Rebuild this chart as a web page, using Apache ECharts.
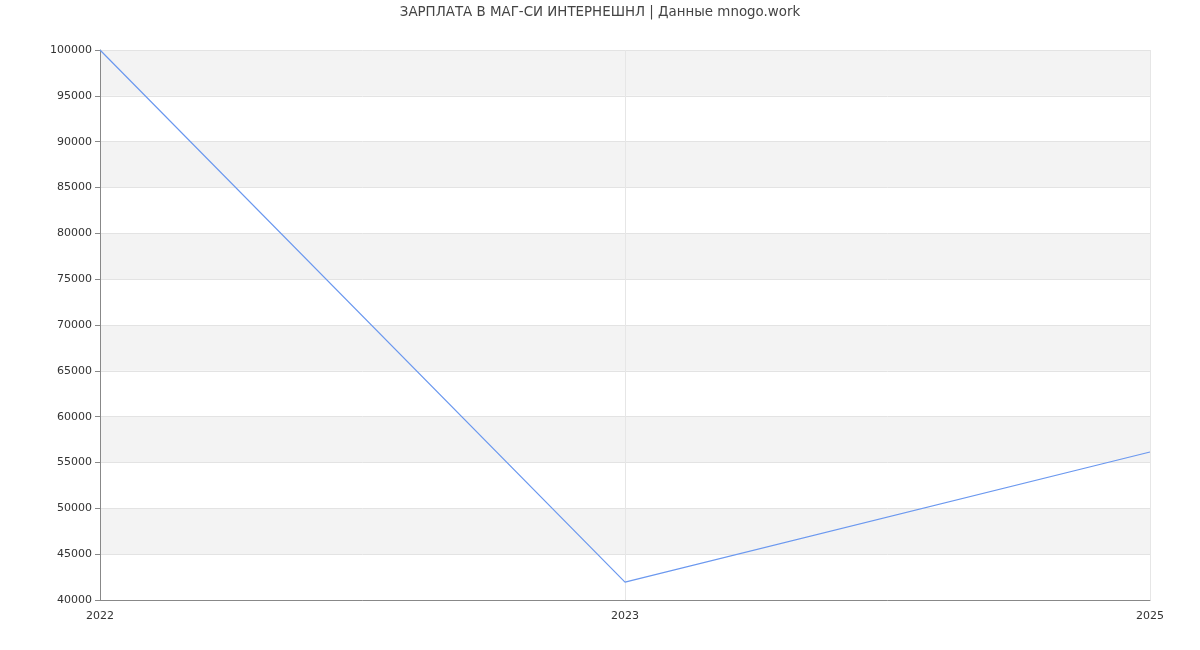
<!DOCTYPE html>
<html><head><meta charset="utf-8">
<script src="https://cdn.jsdelivr.net/npm/echarts@6/dist/echarts.min.js"></script>
<style>html,body{margin:0;padding:0;background:#fff}#c{width:1200px;height:650px}</style>
</head><body><div id="c"></div>
<script>
const titleText = 'ЗАРПЛАТА В МАГ-СИ ИНТЕРНЕШНЛ | Данные mnogo.work';
const years = ['2022', '2023', '2025'];
const salary = [100000, 41950, 56150];
const yMin = 40000, yMax = 100000, yStep = 5000;

const chart = echarts.init(document.getElementById('c'), null, {renderer: 'canvas'});
chart.setOption({
  animation: false,
  backgroundColor: '#fff',
  textStyle: {fontFamily: 'DejaVu Sans'},
  title: {text: titleText, left: 'center', top: 1,
    textStyle: {fontSize: 13.4, fontWeight: 'normal', color: '#444', fontFamily: 'DejaVu Sans'}},
  grid: {left: 100, right: 50, top: 50, bottom: 50, containLabel: false},
  xAxis: {type: 'category', data: years, boundaryGap: false,
    axisLine: {lineStyle: {color: '#888'}},
    axisTick: {show: false},
    axisLabel: {color: '#333', fontSize: 11, margin: 11},
    splitLine: {show: true, lineStyle: {color: '#e6e6e6'}}},
  yAxis: {type: 'value', min: yMin, max: yMax, interval: yStep,
    axisLine: {show: true, lineStyle: {color: '#888'}},
    axisTick: {show: true, length: 5, lineStyle: {color: '#888'}},
    axisLabel: {color: '#333', fontSize: 11, margin: 8, formatter: v => String(v)},
    splitLine: {show: true, lineStyle: {color: '#e3e3e3'}},
    splitArea: {show: true, areaStyle: {color: ['#ffffff', '#f3f3f3']}}},
  series: [{type: 'line', data: salary, symbol: 'none',
    lineStyle: {color: '#6b98ef', width: 1.2}}]
});
</script></body></html>
